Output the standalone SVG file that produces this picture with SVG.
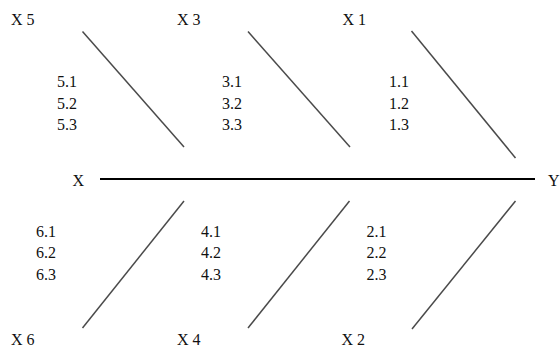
<svg xmlns="http://www.w3.org/2000/svg" width="560" height="350" viewBox="0 0 560 350">
<style>
.t text{font-family:'Liberation Serif','Times New Roman','DejaVu Serif',serif;font-size:16px;fill:#111}
.b{stroke:#4a4a4a;stroke-width:1.5;fill:none}
.m{stroke:#000;stroke-width:2;fill:none}
</style>
<rect width="560" height="350" fill="#fff"/>
<g id="connectors">
<line class="m" x1="100" y1="179" x2="535" y2="179"/>
<line class="b" x1="82.5" y1="31.5" x2="184" y2="147"/>
<line class="b" x1="248" y1="31.5" x2="350" y2="147"/>
<line class="b" x1="411.5" y1="31" x2="515.5" y2="158"/>
<line class="b" x1="184" y1="201" x2="82.5" y2="328"/>
<line class="b" x1="349.5" y1="201" x2="248" y2="328"/>
<line class="b" x1="515.5" y1="201" x2="412" y2="329"/>
</g>
<g class="t" font-family="Liberation Serif, serif">
<g id="X"><text x="72.5" y="186">X</text></g>
<g id="Y"><text x="548" y="186">Y</text></g>
<g id="X5"><text x="11" y="25">X 5</text><text x="57" y="87">5.1</text><text x="57" y="108.5">5.2</text><text x="57" y="130">5.3</text></g>
<g id="X3"><text x="177" y="25">X 3</text><text x="222" y="87">3.1</text><text x="222" y="108.5">3.2</text><text x="222" y="130">3.3</text></g>
<g id="X1"><text x="342.5" y="25">X 1</text><text x="389" y="87">1.1</text><text x="389" y="108.5">1.2</text><text x="389" y="130">1.3</text></g>
<g id="X6"><text x="11" y="345">X 6</text><text x="36" y="237">6.1</text><text x="36" y="258">6.2</text><text x="36" y="279.5">6.3</text></g>
<g id="X4"><text x="177" y="345">X 4</text><text x="201" y="237">4.1</text><text x="201" y="258">4.2</text><text x="201" y="279.5">4.3</text></g>
<g id="X2"><text x="341.5" y="345">X 2</text><text x="366.5" y="237">2.1</text><text x="366.5" y="258">2.2</text><text x="366.5" y="279.5">2.3</text></g>
</g>
</svg>
